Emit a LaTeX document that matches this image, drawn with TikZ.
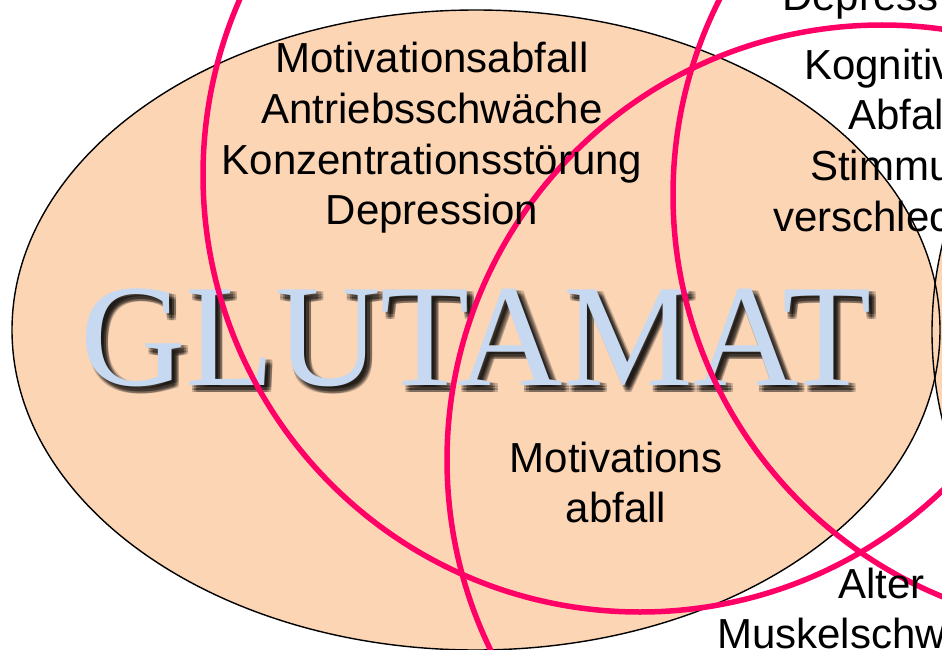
\documentclass[tikz,border=0pt]{standalone}
\usepackage{fontspec}
\setmainfont{Liberation Sans}
\newfontfamily\serifglu{Liberation Serif}
\definecolor{beige}{RGB}{252,213,181}
\definecolor{pinkline}{RGB}{255,0,102}
\definecolor{glublue}{RGB}{198,217,241}
\tikzset{
  lbl/.style={inner sep=0pt, font=\fontsize{42}{50}\selectfont, text=black},
  lblw/.style={lbl, anchor=base west},
  lblc/.style={lbl, anchor=base},
  venn/.style={draw=pinkline, line width=5.5pt},
  blob/.style={fill=beige},
  blobline/.style={draw=black, line width=1.4pt},
  glu/.style={inner sep=0pt, anchor=base, font=\serifglu\fontsize{146}{146}\selectfont},
  glushadow/.style={glu, text=black, text opacity=0.2},
}
\begin{document}
\begin{tikzpicture}[x=1pt,y=-1pt]
\useasboundingbox (0,0) rectangle (942,650);
\clip (0,0) rectangle (942,650);
\fill[white] (0,0) rectangle (942,650);
% ellipses
\fill[blob] (1362,332) ellipse [x radius=430pt, y radius=400pt];
\fill[blob] (476,330) ellipse [x radius=464pt, y radius=320pt];
\draw[blobline] (1362,332) ellipse [x radius=430pt, y radius=400pt];
\draw[blobline] (476,330) ellipse [x radius=464pt, y radius=320pt];
% GLUTAMAT with soft shadow
\foreach \dx in {-2.2,0,2.2}{
  \foreach \dy in {-2.2,0,2.2}{
    \node[glushadow] at (481+\dx,390+\dy) {GLUTAMAT};
  }
}
\node[glu, text=glublue] (glu) at (476,385) {GLUTAMAT};
% pink circles
\draw[venn] (640,175) circle [radius=437pt];
\draw[venn] (1107,195) circle [radius=434pt];
\draw[venn] (882,460) circle [radius=435pt];
% left block
\node[lblc] (a1) at (432,73) {Motivationsabfall};
\node[lblc] (a2) at (432,123.5) {Antriebsschwäche};
\node[lblc] (a3) at (432,174) {Konzentrationsstörung};
\node[lblc] (a4) at (432,224.5) {Depression};
% middle block
\node[lblc] (b1) at (616,472) {Motivations};
\node[lblc] (b2) at (616,522) {abfall};
% right side (cut by the frame)
\node[lblw] (c0) at (782,11) {Depress};
\node[lblw] (c1) at (804,79.5) {Kognitiv};
\node[lblw] (c2) at (848,130) {Abfal};
\node[lblw] (c3) at (810,180.5) {Stimmu};
\node[lblw] (c4) at (773,231) {verschlec};
\node[lblw] (d1) at (838,598) {Alter};
\node[lblw] (d2) at (717,648) {Muskelschw};
\end{tikzpicture}
\end{document}
